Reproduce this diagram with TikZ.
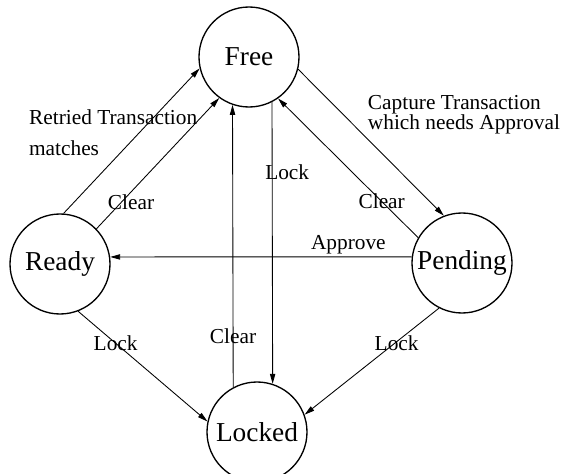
\documentclass[tikz,border=0pt]{standalone}
\usepackage{fontspec}
\setmainfont{Liberation Serif}
\usetikzlibrary{arrows.meta}
\tikzset{
  statenode/.style={circle,draw,line width=1pt,minimum size=75pt,inner sep=0pt,font=\fontsize{20.5}{24}\selectfont},
  transition/.style={-{Triangle[length=7.5pt,width=4pt]},line width=0.65pt},
  edgelabel/.style={inner sep=0pt,font=\fontsize{16}{19}\selectfont}
}

\begin{document}
\begin{tikzpicture}[x=0.75pt,y=-0.75pt]
  \useasboundingbox (0,0) rectangle (567,474);
  \node[statenode] (free) at (249,57) {Free};
  \node[statenode] (ready) at (60,264) {Ready};
  \node[statenode] (pending) at (462,263) {Pending};
  \node[statenode] (locked) at (257,432) {Locked};
  % transitions into Free
  \draw[transition] (ready.86) -- node[edgelabel,anchor=west,align=left,pos=0.556,shift={(-110.5,0)},font=\fontsize{16}{23.5}\selectfont] (retried) {Retried Transaction\\matches} (free.193);
  \draw[transition] (ready.44) -- node[edgelabel,pos=0.2,shift={(10,0)}] (clearready) {Clear} (free.234);
  \draw[transition] (locked.118.7) -- node[edgelabel,pos=0.18] (clearlocked) {Clear} (free.251.3);
  \draw[transition] (pending.150) -- node[edgelabel,pos=0.26] (clearpending) {Clear} (free.305);
  % transitions out of Free
  \draw[transition] (free.297.4) -- node[edgelabel,pos=0.25,shift={(15,0)}] (lockfree) {Lock} (locked.72.5);
  \draw[transition] (free.346) -- node[edgelabel,anchor=west,align=left,pos=0.291,shift={(27,3)},font=\fontsize{16}{15.5}\selectfont] (capture) {Capture Transaction\\which needs Approval} (pending.111.6);
  % the rest
  \draw[transition] (pending.173) -- node[edgelabel,pos=0.21,shift={(0,-12)}] (approve) {Approve} (ready.8);
  \draw[transition] (ready.291) -- node[edgelabel,pos=0.29] (lockready) {Lock} (locked.168.5);
  \draw[transition] (pending.243) -- node[edgelabel,pos=0.33,shift={(2,0)}] (lockpending) {Lock} (locked.20);
\end{tikzpicture}
\end{document}
